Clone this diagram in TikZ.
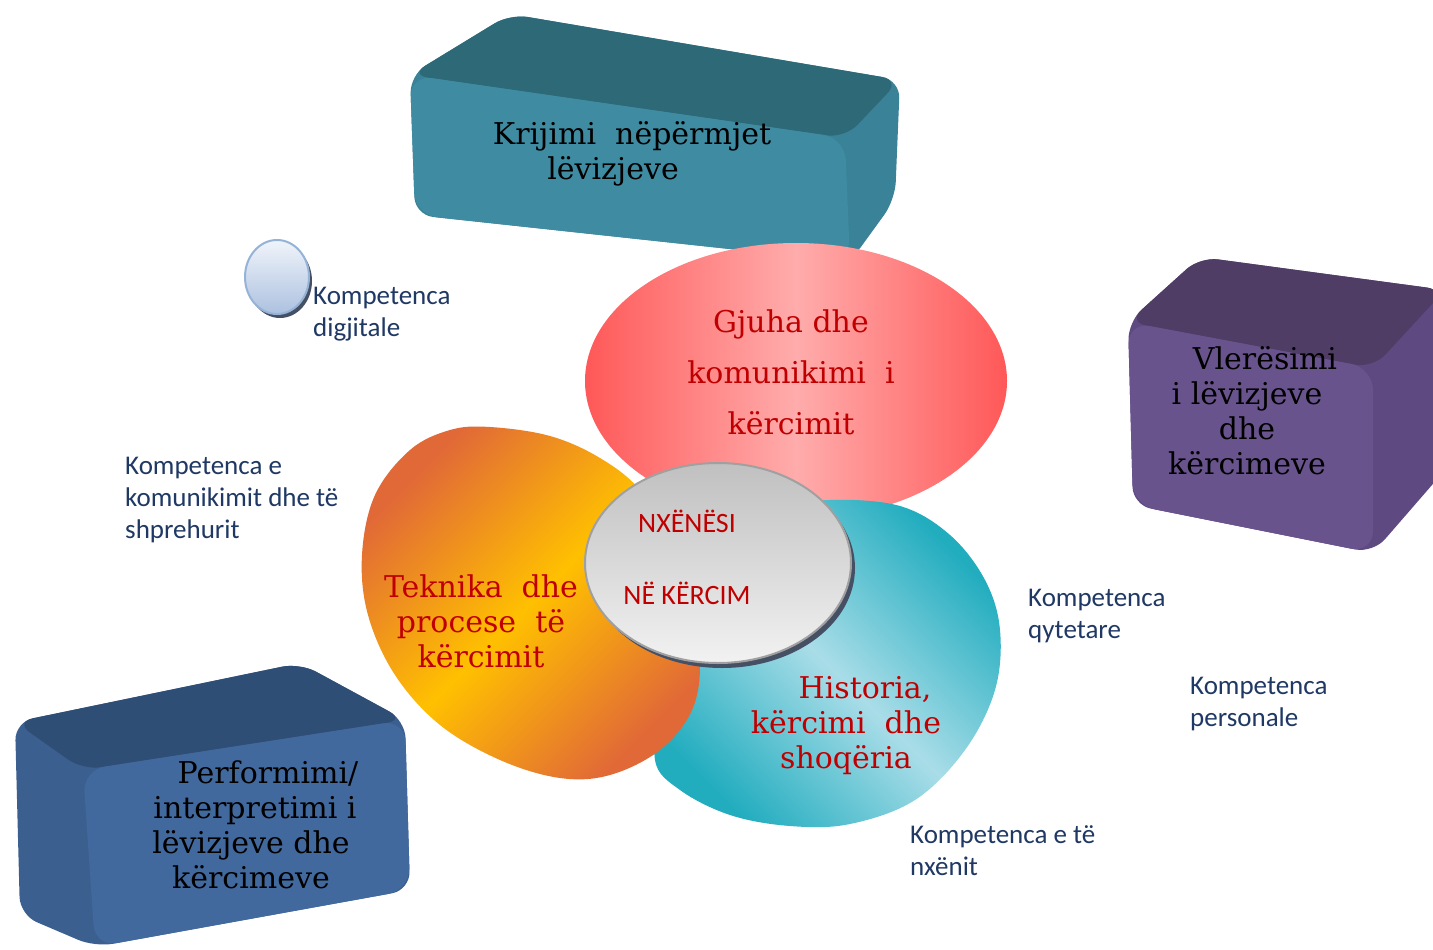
\documentclass[tikz,border=0pt]{standalone}
\usepackage{fontspec}
\setmainfont{DejaVu Serif}
\newfontfamily\carl{Carlito}
\definecolor{tealF}{RGB}{63,139,161}
\definecolor{tealT}{RGB}{46,105,120}
\definecolor{tealS}{RGB}{58,130,152}
\definecolor{purF}{RGB}{105,83,141}
\definecolor{purT}{RGB}{79,61,102}
\definecolor{purS}{RGB}{94,74,128}
\definecolor{bluF}{RGB}{66,105,157}
\definecolor{bluT}{RGB}{47,78,117}
\definecolor{bluS}{RGB}{59,95,143}
\definecolor{pinkE}{RGB}{255,88,88}
\definecolor{pinkM}{RGB}{255,172,172}
\definecolor{cyanD}{RGB}{34,173,191}
\definecolor{cyanL}{RGB}{169,221,232}
\definecolor{orD}{RGB}{225,105,55}
\definecolor{orY}{RGB}{255,192,0}
\definecolor{grayA}{RGB}{192,192,192}
\definecolor{grayB}{RGB}{242,242,242}
\definecolor{grayE}{RGB}{160,160,160}
\definecolor{shadowc}{RGB}{70,80,100}
\definecolor{circT}{RGB}{240,244,250}
\definecolor{circB}{RGB}{172,193,224}
\definecolor{circE}{RGB}{149,179,215}
\definecolor{compblue}{RGB}{31,56,100}
\definecolor{darkred}{RGB}{192,0,0}
\tikzset{
  comp/.style={anchor=north west, inner sep=0pt, align=left, font=\carl\fontsize{27}{32}\selectfont, text=compblue},
  boxtxt/.style={align=center, inner sep=0pt, font=\fontsize{30}{35}\selectfont, text=black},
  redtxt/.style={align=center, inner sep=0pt, font=\fontsize{30}{35}\selectfont, text=darkred},
}
\begin{document}
\begin{tikzpicture}[x=1pt,y=-1pt]
\useasboundingbox (0,0) rectangle (1433,950);
\fill[white] (0,0) rectangle (1433,950);

% teal box
\fill[tealS, rounded corners=18] (410,75) -- (510,14) -- (900,80) -- (895,200) -- (850,262) -- (415,215) -- cycle;
\fill[tealT, rounded corners=18] (410,75) -- (510,14) -- (900,80) -- (845,138) -- cycle;
\fill[tealF, rounded corners=22] (410,75) -- (845,138) -- (850,262) -- (415,215) -- cycle;
\node[boxtxt] (krijimi) at (632,154) {Krijimi\ \ nëpërmjet\\lëvizjeve\hspace*{38pt}};

% purple box
\fill[purS, rounded corners=18] (1128,322) -- (1200,257) -- (1445,290) -- (1445,470) -- (1373,553) -- (1133,505) -- cycle;
\fill[purT, rounded corners=18] (1128,322) -- (1200,257) -- (1445,290) -- (1373,368) -- cycle;
\fill[purF, rounded corners=22] (1128,322) -- (1373,368) -- (1373,553) -- (1133,505) -- cycle;
\node[boxtxt] (vleresimi) at (1247,411) {\hspace*{36pt}Vlerësimi\\i lëvizjeve\\dhe\\kërcimeve};

% blue box
\fill[bluS, rounded corners=18] (15,722) -- (300,663) -- (405,720) -- (410,890) -- (95,947) -- (20,915) -- cycle;
\fill[bluT, rounded corners=18] (15,722) -- (300,663) -- (405,720) -- (83,770) -- cycle;
\fill[bluF, rounded corners=22] (83,770) -- (405,720) -- (410,890) -- (95,947) -- cycle;
\node[boxtxt] (performimi) at (251,825) {\hspace*{34pt}Performimi/\\\hspace*{8pt}interpretimi i\\lëvizjeve dhe\\kërcimeve};

% pink ellipse
\shade[left color=pinkE, right color=pinkE, middle color=pinkM] (796,381) ellipse [x radius=211, y radius=138];
\node[redtxt, font=\fontsize{30}{51}\selectfont] (gjuha) at (791,372) {Gjuha dhe\\komunikimi\ \ i\\kërcimit};

% cyan blob
\shade[top color=cyanD, bottom color=cyanD, middle color=cyanL, shading angle=135]
  plot[smooth cycle, tension=0.6] coordinates {(830,500) (900,506) (950,535) (985,580) (1000,630) (995,690) (965,750) (915,800) (850,824) (790,826) (730,815) (680,790) (655,760) (665,700) (700,640) (740,560) (780,510)};
\node[redtxt] (historia) at (846,726) {\hspace*{38pt}Historia,\\kërcimi\ \ dhe\\shoqëria};

% orange blob
\shade[top color=orD, bottom color=orD, middle color=orY, shading angle=45]
  plot[smooth cycle, tension=0.6] coordinates {(490,427) (550,436) (600,458) (640,490) (670,540) (690,600) (700,660) (692,710) (660,750) (610,775) (560,778) (500,760) (440,725) (395,675) (368,615) (362,555) (375,495) (410,450) (450,430)};
\node[redtxt] (teknika) at (481,621) {Teknika\ \ dhe\\procese\ \ të\\kërcimit};

% center ellipse
\fill[shadowc] (722,568) ellipse [x radius=133, y radius=100];
\shadedraw[top color=grayA, bottom color=grayB, draw=grayE, line width=2pt] (718,563) ellipse [x radius=133, y radius=100];
\node[align=center, inner sep=0pt, font=\carl\fontsize{28}{72}\selectfont, text=darkred] (nxenesi) at (687,557) {NXËNËSI\\NË KËRCIM};

% small circle
\fill[shadowc] (280,281) ellipse [x radius=32, y radius=37];
\shadedraw[top color=circT, bottom color=circB, draw=circE, line width=2pt] (277,277) ellipse [x radius=32, y radius=37];

% competence labels
\node[comp] (digjitale) at (313,287) {Kompetenca\\digjitale};
\node[comp] (komunikimit) at (125,457) {Kompetenca e\\komunikimit dhe të\\shprehurit};
\node[comp] (qytetare) at (1028,589) {Kompetenca\\qytetare};
\node[comp] (personale) at (1190,677) {Kompetenca\\personale};
\node[comp] (nxenit) at (910,825) {Kompetenca e të\\nxënit};
\end{tikzpicture}
\end{document}
